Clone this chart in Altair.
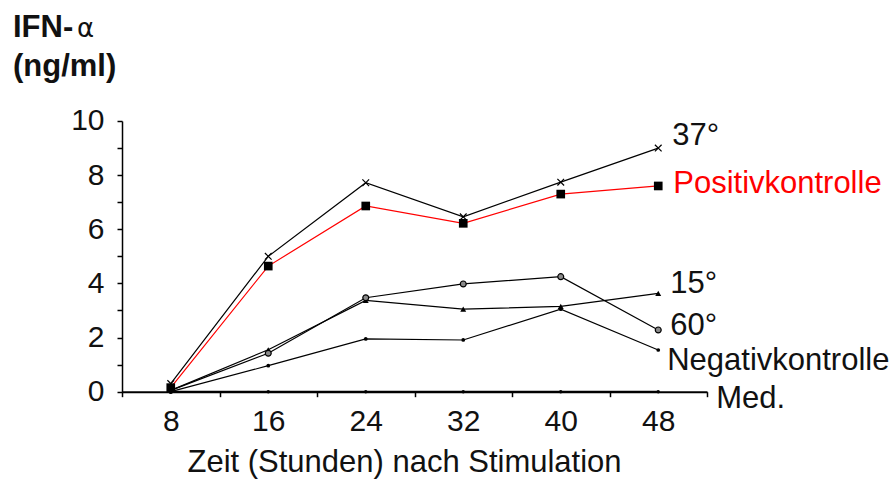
import altair as alt
import pandas as pd

hours = [8, 16, 24, 32, 40, 48]
series_names = ["37°", "Positivkontrolle", "15°", "60°", "Negativkontrolle", "Med."]
v37 = [0.3, 5.0, 7.72, 6.46, 7.74, 9.0]
vpos = [0.15, 4.64, 6.86, 6.22, 7.3, 7.6]
v15 = [0.05, 1.55, 3.37, 3.05, 3.15, 3.63]
v60 = [0.05, 1.42, 3.47, 3.98, 4.25, 2.28]
vneg = [0.0, 0.96, 1.95, 1.91, 3.05, 1.54]
vmed = [0, 0, 0, 0, 0, 0]
x_tick_values = [4, 8, 12, 16, 20, 24, 28, 32, 36, 40, 44, 48, 52]
y_tick_values = [0, 1, 2, 3, 4, 5, 6, 7, 8, 9, 10]
x_title = "Zeit (Stunden) nach Stimulation"
y_title_main = "IFN-"
y_title_greek = "α"
y_title_unit = "(ng/ml)"

values_by_series = dict(zip(series_names, [v37, vpos, v15, v60, vneg, vmed]))
rows = []
for name, vals in values_by_series.items():
    for h, v in zip(hours, vals):
        rows.append({"series": name, "hour": h, "value": v})
df = pd.DataFrame(rows)

FONT = "Liberation Sans"

x_enc = alt.X(
    "hour:Q",
    scale=alt.Scale(domain=[4, 52], nice=False, zero=False),
    axis=alt.Axis(
        values=x_tick_values,
        labelExpr="datum.value % 8 == 0 ? datum.label : ''",
        tickOpacity={"condition": {"test": "datum.value % 8 == 4", "value": 1}, "value": 0},
        tickSize=5,
        tickWidth=1.5,
        labelPadding=10,
        labelFontSize=30,
        labelFont=FONT,
        labelColor="#111",
        labelFlush=False,
        labelOverlap=False,
        grid=False,
        domainColor="#000",
        domainWidth=2,
        tickColor="#000",
        title=x_title,
        titleFont=FONT,
        titleFontSize=31,
        titleFontWeight="normal",
        titleColor="#111",
        titleX=282,
        titleY=80,
        titleAlign="center",
        titleBaseline="alphabetic",
    ),
)
y_enc = alt.Y(
    "value:Q",
    scale=alt.Scale(domain=[0, 10], nice=False),
    axis=alt.Axis(
        values=y_tick_values,
        labelExpr="datum.value % 2 == 0 ? datum.label : ''",
        tickSize=5,
        tickWidth=1.5,
        labelPadding=13,
        labelFontSize=30,
        labelFont=FONT,
        labelColor="#111",
        labelOverlap=False,
        grid=False,
        domainColor="#000",
        domainWidth=1.5,
        tickColor="#000",
        title=None,
    ),
)

base = alt.Chart(df)

black_series = ["37°", "15°", "60°", "Negativkontrolle"]
black_lines = base.transform_filter(
    alt.FieldOneOfPredicate(field="series", oneOf=black_series)
).mark_line(color="#000", strokeWidth=1.2).encode(x=x_enc, y=y_enc, detail="series:N")

med_line = base.transform_filter(alt.datum.series == "Med.").mark_line(
    color="#000", strokeWidth=2
).encode(x=x_enc, y=y_enc)

red_line = base.transform_filter(alt.datum.series == "Positivkontrolle").mark_line(
    color="#ff0000", strokeWidth=1.2
).encode(x=x_enc, y=y_enc)

pts_37 = base.transform_filter(alt.datum.series == "37°").mark_point(
    shape="M-1,-1L1,1M1,-1L-1,1", filled=False, color="#000", strokeWidth=1.2, size=45, opacity=1
).encode(x=x_enc, y=y_enc)
pts_15 = base.transform_filter(alt.datum.series == "15°").mark_point(
    shape="triangle-up", filled=True, color="#000", size=35, opacity=1
).encode(x=x_enc, y=y_enc)
pts_60 = base.transform_filter(alt.datum.series == "60°").mark_point(
    shape="circle", filled=True, fill="#8a8a8a", stroke="#000", strokeWidth=1.2, size=35, opacity=1
).encode(x=x_enc, y=y_enc)
pts_neg = base.transform_filter(alt.datum.series == "Negativkontrolle").mark_point(
    shape="circle", filled=True, color="#000", size=14, opacity=1
).encode(x=x_enc, y=y_enc)
pts_med = base.transform_filter(alt.datum.series == "Med.").mark_point(
    shape="circle", filled=True, color="#000", size=12, opacity=1
).encode(x=x_enc, y=y_enc)
pts_pos = base.transform_filter(alt.datum.series == "Positivkontrolle").mark_point(
    shape="square", filled=True, color="#000", size=75, opacity=1
).encode(x=x_enc, y=y_enc)

label_style = {
    "37°": (14, -3, "#111"),
    "Positivkontrolle": (15, 7, "#ff0000"),
    "15°": (12, 0, "#111"),
    "60°": (12, 5, "#111"),
    "Negativkontrolle": (9, 20, "#111"),
    "Med.": (58, 16, "#111"),
}
label_layers = []
for name, (dx, dy, col) in label_style.items():
    label_layers.append(
        base.transform_filter(alt.datum.series == name)
        .transform_filter(alt.datum.hour == 48)
        .mark_text(align="left", baseline="alphabetic", dx=dx, dy=dy, fontSize=31, font=FONT, color=col)
        .encode(x=x_enc, y=y_enc, text="series:N")
    )

title_main = alt.Chart(pd.DataFrame({"t": [y_title_main]})).mark_text(
    align="left", baseline="alphabetic", fontSize=31, fontWeight="bold", font=FONT, color="#111"
).encode(x=alt.value(-109), y=alt.value(-84), text="t:N")
title_greek = alt.Chart(pd.DataFrame({"t": [y_title_greek]})).mark_text(
    align="left", baseline="alphabetic", fontSize=26, font="DejaVu Sans", color="#111"
).encode(x=alt.value(-45), y=alt.value(-84), text="t:N")
title_unit = alt.Chart(pd.DataFrame({"t": [y_title_unit]})).mark_text(
    align="left", baseline="alphabetic", fontSize=31, fontWeight="bold", font=FONT, color="#111"
).encode(x=alt.value(-109), y=alt.value(-44.5), text="t:N")

chart = alt.layer(
    black_lines, med_line, red_line,
    pts_37, pts_15, pts_60, pts_neg, pts_med, pts_pos,
    *label_layers,
    title_main, title_greek, title_unit,
).properties(
    width=585,
    height=270.7,
    autosize=alt.AutoSizeParams(type="none"),
    padding={"left": 122, "top": 121, "right": 188, "bottom": 89},
    background="white",
).configure_view(stroke=None)

chart.save("out.html", embed_options={"renderer": "svg", "actions": False})
